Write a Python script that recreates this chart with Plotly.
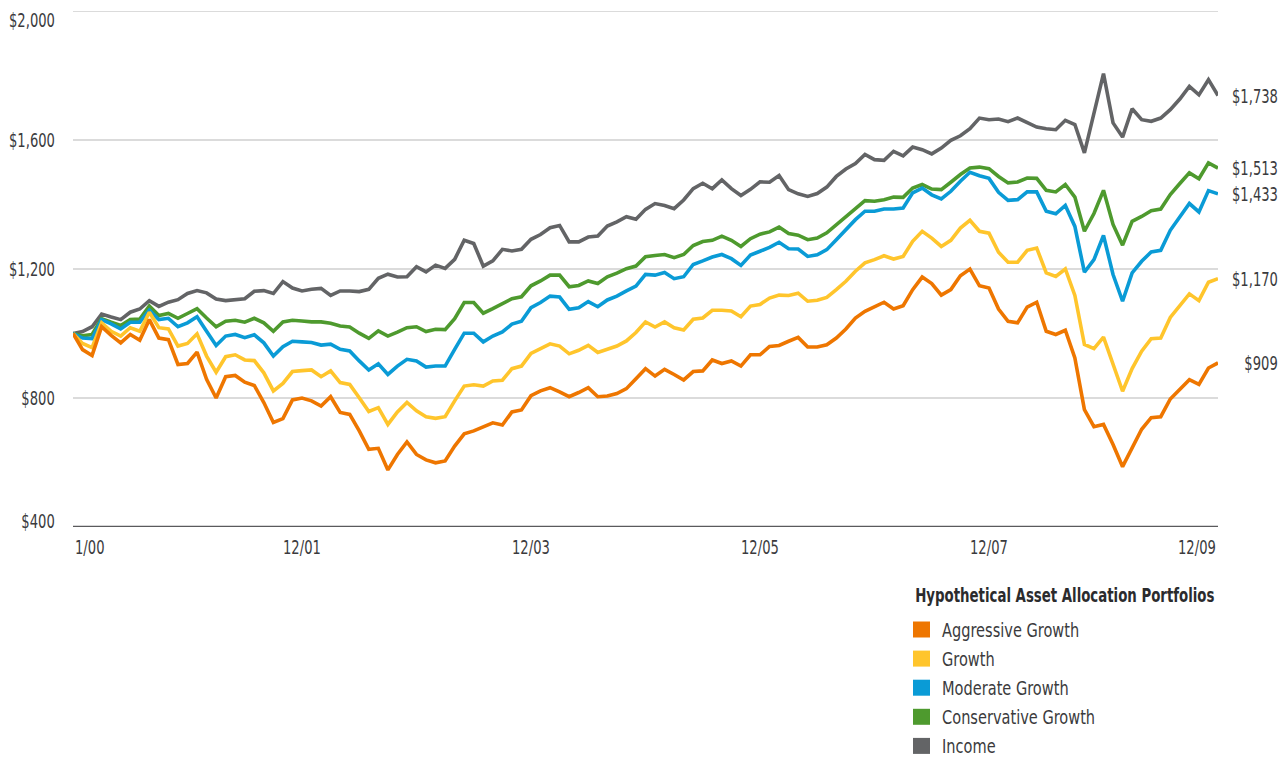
import plotly.graph_objects as go

# ---- data (month index 0 = 12/99 ... 120 = 12/09) ----
income = [1000, 1006, 1021, 1060, 1051, 1043, 1066, 1076, 1102, 1084, 1097, 1105, 1124, 1133, 1126, 1107, 1102, 1105, 1108, 1131, 1133, 1124, 1161, 1141, 1132,
          1137, 1140, 1118, 1132, 1132, 1130, 1137, 1171, 1184, 1175, 1176, 1207, 1191, 1212, 1202, 1230, 1289, 1279, 1209, 1225, 1261, 1256, 1261,
          1292,
          1307, 1328, 1335, 1284, 1284, 1299, 1302, 1333, 1346, 1362, 1354, 1385, 1403, 1397, 1387, 1414, 1449, 1466, 1449, 1476, 1449, 1428, 1447, 1470,
          1469, 1490, 1446, 1433, 1425, 1434, 1454, 1487, 1510, 1527, 1555, 1539, 1537, 1565, 1551, 1578, 1570, 1557, 1575, 1599, 1613, 1635, 1668, 1663,
          1665, 1657, 1668, 1653, 1640, 1635, 1632, 1661, 1648, 1560, 1679, 1806, 1653, 1609, 1697, 1663, 1658, 1668, 1694, 1727, 1766, 1740, 1787, 1738]

conservative = [1000, 993, 997, 1046, 1035, 1025, 1043, 1045, 1085, 1056, 1062, 1047, 1062, 1077, 1048, 1021, 1038, 1041, 1035, 1047, 1033, 1007, 1036, 1041, 1039,
                1036, 1036, 1032, 1023, 1020, 1001, 985, 1008, 992, 1004, 1018, 1021, 1006, 1013, 1012, 1046, 1096, 1096, 1063, 1077, 1093, 1108, 1114,
                1148,
                1163, 1181, 1181, 1145, 1149, 1163, 1155, 1176, 1187, 1201, 1209, 1238, 1242, 1245, 1235, 1245, 1273, 1285, 1289, 1302, 1289, 1270, 1294, 1308,
                1315, 1330, 1310, 1305, 1291, 1296, 1312, 1337, 1363, 1387, 1412, 1410, 1415, 1423, 1422, 1451, 1462, 1448, 1446, 1469, 1493, 1513, 1516, 1511,
                1487, 1467, 1470, 1482, 1481, 1444, 1439, 1462, 1423, 1317, 1372, 1444, 1338, 1274, 1348, 1363, 1381, 1386, 1431, 1465, 1498, 1480, 1529, 1513]

moderate = [1000, 986, 984, 1043, 1030, 1014, 1035, 1035, 1072, 1043, 1047, 1021, 1033, 1052, 1007, 963, 992, 997, 987, 996, 971, 930, 959, 976, 974,
            972, 964, 967, 951, 946, 915, 887, 906, 873, 899, 920, 915, 896, 899, 899, 951, 1001, 1001, 974, 992, 1005, 1029, 1038,
            1080,
            1096, 1116, 1113, 1075, 1080, 1099, 1083, 1104, 1116, 1132, 1147, 1183, 1181, 1189, 1170, 1176, 1214, 1225, 1237, 1245, 1232, 1211, 1243, 1255,
            1267, 1283, 1263, 1262, 1239, 1244, 1260, 1291, 1322, 1353, 1379, 1379, 1386, 1386, 1389, 1436, 1451, 1430, 1417, 1441, 1472, 1500, 1489, 1481,
            1438, 1413, 1415, 1439, 1439, 1379, 1371, 1397, 1332, 1190, 1229, 1304, 1183, 1100, 1188, 1224, 1253, 1258, 1320, 1363, 1403, 1377, 1443, 1433]

growth = [1000, 969, 956, 1033, 1007, 992, 1018, 1007, 1066, 1018, 1014, 961, 969, 999, 930, 880, 928, 934, 918, 916, 878, 822, 845, 882, 885,
          887, 866, 884, 848, 842, 801, 758, 770, 718, 757, 786, 760, 742, 737, 742, 791, 837, 841, 837, 853, 855, 891, 899,
          938,
          953, 968, 961, 937, 948, 963, 941, 951, 961, 977, 1003, 1036, 1020, 1036, 1018, 1011, 1044, 1048, 1072, 1072, 1070, 1052, 1085, 1090,
          1110, 1119, 1118, 1125, 1100, 1103, 1112, 1136, 1162, 1193, 1219, 1229, 1241, 1231, 1239, 1286, 1317, 1296, 1270, 1289, 1327, 1351, 1317, 1311,
          1252, 1221, 1221, 1258, 1265, 1188, 1177, 1200, 1118, 966, 953, 989, 909, 821, 891, 945, 984, 986, 1050, 1087, 1123, 1102, 1159, 1170]

aggressive = [1000, 950, 932, 1021, 994, 971, 997, 979, 1043, 986, 981, 904, 907, 942, 858, 800, 866, 870, 849, 839, 786, 724, 736, 794, 800,
              791, 775, 804, 755, 749, 698, 641, 644, 577, 625, 664, 625, 608, 599, 605, 651, 689, 698, 710, 723, 716, 757, 763,
              807,
              822, 832, 819, 804, 817, 832, 804, 806, 814, 829, 860, 891, 868, 889, 873, 856, 882, 884, 918, 907, 915, 899, 934, 934,
              960, 963, 976, 988, 958, 958, 965, 986, 1014, 1048, 1069, 1082, 1097, 1076, 1086, 1136, 1175, 1155, 1119, 1136, 1179, 1200, 1148, 1141,
              1076, 1038, 1033, 1082, 1097, 1007, 997, 1010, 924, 764, 711, 718, 656, 587, 646, 703, 739, 742, 797, 828, 857, 842, 893, 909]

months = list(range(len(income)))

series_names = ["Aggressive Growth", "Growth", "Moderate Growth", "Conservative Growth", "Income"]
series_values = [aggressive, growth, moderate, conservative, income]
series_colors = ["#EE7600", "#FFC52C", "#0A9BD6", "#4E9A2E", "#636466"]
end_labels = ["$909", "$1,170", "$1,433", "$1,513", "$1,738"]

y_ticks = [400, 800, 1200, 1600, 2000]
y_tick_text = ["$400", "$800", "$1,200", "$1,600", "$2,000"]
x_tick_pos = [0, 24, 48, 72, 96, 120]
x_tick_text = ["1/00", "12/01", "12/03", "12/05", "12/07", "12/09"]
legend_title = "Hypothetical Asset Allocation Portfolios"

# ---- layout geometry (pixels) ----
W, H = 1287, 758
L, R, T, B = 73, 1218, 11, 527
FONT = "DejaVu Sans Condensed, DejaVu Sans, sans-serif"
TXT = "#3b3b3d"
NUM_SCALE = "0.73"   # horizontal condensing for numeric labels
WORD_SCALE = "0.81"  # horizontal condensing for word labels
TITLE_SCALE = "0.78"


def px(x):
    return (x - L) / (R - L)


def py(y):
    return (B - y) / (B - T)


fig = go.Figure()
for name, vals, col in reversed(list(zip(series_names, series_values, series_colors))):
    fig.add_trace(go.Scatter(x=months, y=vals, mode="lines", name=name,
                             line=dict(color=col, width=3.6), hoverinfo="skip"))

annotations = []
for v, t in zip(y_ticks, y_tick_text):
    shift = 0
    if v == y_ticks[-1]:
        shift = -9
    elif v == y_ticks[0]:
        shift = 6
    annotations.append(dict(x=px(57), xref="paper", y=v, yref="y", text=t, showarrow=False,
                            xanchor="right", yanchor="middle", yshift=shift, name=NUM_SCALE,
                            font=dict(family=FONT, size=20, color=TXT)))
for i, (m, t) in enumerate(zip(x_tick_pos, x_tick_text)):
    anchor = "center"
    if i == 0:
        anchor = "left"
    elif i == len(x_tick_pos) - 1:
        anchor = "right"
    annotations.append(dict(x=m, xref="x", y=py(546.5), yref="paper", text=t, showarrow=False,
                            xanchor=anchor, yanchor="middle", name=NUM_SCALE,
                            font=dict(family=FONT, size=20, color=TXT)))
for vals, t in zip(series_values, end_labels):
    annotations.append(dict(x=px(1280), xref="paper", y=vals[-1], yref="y", text=t, showarrow=False,
                            xanchor="right", yanchor="middle", name=NUM_SCALE,
                            font=dict(family=FONT, size=20, color=TXT)))
annotations.append(dict(x=px(913), xref="paper", y=py(595), yref="paper", text="<b>" + legend_title + "</b>",
                        showarrow=False, xanchor="left", yanchor="middle", name=TITLE_SCALE,
                        font=dict(family=FONT, size=19, color="#2b2b2d")))
shapes = []
leg_y0 = 629.5
leg_dy = 29.1
for i, (name, col) in enumerate(zip(series_names, series_colors)):
    yc = leg_y0 + i * leg_dy
    shapes.append(dict(type="rect", xref="paper", yref="paper",
                       x0=px(913), x1=px(930), y0=py(yc + 8), y1=py(yc - 8),
                       fillcolor=col, line=dict(width=0)))
    annotations.append(dict(x=px(940), xref="paper", y=py(yc), yref="paper", text=name,
                            showarrow=False, xanchor="left", yanchor="middle", name=WORD_SCALE,
                            font=dict(family=FONT, size=20, color=TXT)))
# gridlines
for v in y_ticks[1:]:
    shapes.append(dict(type="line", xref="paper", yref="y", x0=0, x1=1, y0=v, y1=v,
                       line=dict(color="#cfcfcf", width=1.3), layer="below"))
# bottom axis line
shapes.append(dict(type="line", xref="paper", yref="y", x0=0, x1=1, y0=y_ticks[0], y1=y_ticks[0],
                   line=dict(color="#5a5a5c", width=2.5), layer="above"))

fig.update_layout(
    width=W, height=H,
    margin=dict(l=L, r=W - R, t=T, b=H - B, pad=0),
    paper_bgcolor="white", plot_bgcolor="white",
    showlegend=False,
    xaxis=dict(range=[0, 120], showgrid=False, zeroline=False, showticklabels=False,
               showline=False, fixedrange=True),
    yaxis=dict(range=[400, 2000], showticklabels=False, showgrid=False,
               zeroline=False, showline=False, fixedrange=True),
    annotations=annotations,
    shapes=shapes,
)

post_js = """
document.body.style.margin = '0';
document.body.style.overflow = 'hidden';
var gd = document.getElementById('{plot_id}');
var anns = gd.layout.annotations;
gd.querySelectorAll('g.annotation').forEach(function(g) {
  var i = +g.getAttribute('data-index');
  var a = anns[i];
  var s = parseFloat(a.name || '1');
  var t = g.querySelector('text.annotation-text');
  if (!t || !(s > 0)) return;
  var bb = t.getBBox();
  var ax = a.xanchor === 'left' ? bb.x : (a.xanchor === 'right' ? bb.x + bb.width : bb.x + bb.width / 2);
  var prev = t.getAttribute('transform') || '';
  t.setAttribute('transform', prev + ' translate(' + ax + ',0) scale(' + s + ',1) translate(' + (-ax) + ',0)');
});
"""

fig.write_html("out.html", post_script=post_js, config={"displayModeBar": False})
